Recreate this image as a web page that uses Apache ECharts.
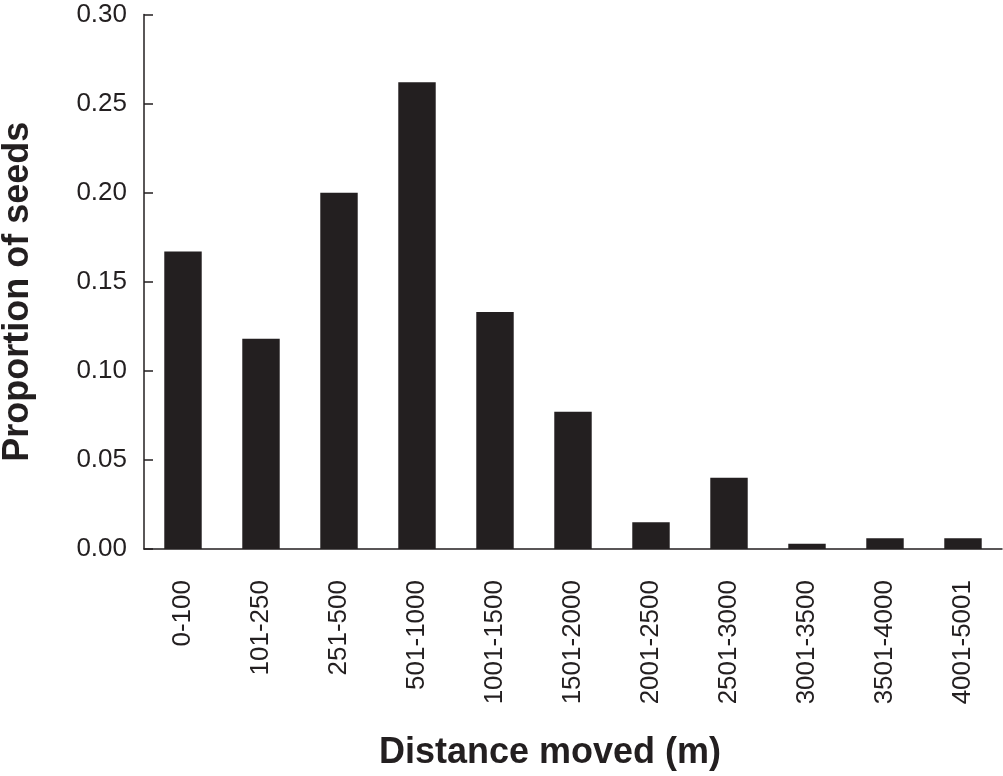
<!DOCTYPE html>
<html>
<head>
<meta charset="utf-8">
<script src="https://cdn.jsdelivr.net/npm/echarts@6/dist/echarts.min.js"></script>
<style>html,body{margin:0;padding:0;background:#fff}#c{width:1003px;height:776px}</style>
</head>
<body>
<div id="c"></div>
<script>
var categories = ['0-100','101-250','251-500','501-1000','1001-1500','1501-2000','2001-2500','2501-3000','3001-3500','3501-4000','4001-5001'];
var proportions = [0.167, 0.118, 0.200, 0.262, 0.133, 0.077, 0.015, 0.040, 0.003, 0.006, 0.006];
var yTicks = [0, 0.05, 0.10, 0.15, 0.20, 0.25, 0.30];

var chart = echarts.init(document.getElementById('c'), null, {renderer: 'canvas'});
var axisColor = '#231f20';
var font = 'Liberation Sans, Arial, Helvetica, sans-serif';
chart.setOption({
  animation: false,
  backgroundColor: '#fff',
  grid: {left: 144, right: 1, top: 14.5, bottom: 227, containLabel: false, outerBoundsMode: 'none'},
  xAxis: {
    type: 'category',
    data: categories,
    name: 'Distance moved (m)',
    nameLocation: 'middle',
    nameGap: 186,
    nameTextStyle: {fontFamily: font, fontSize: 36, fontWeight: 'bold', color: axisColor, padding: [0, 46, 0, 0]},
    axisLine: {lineStyle: {color: axisColor, width: 1.5}},
    axisTick: {inside: true, length: 9, lineStyle: {color: axisColor, width: 1.5}},
    axisLabel: {rotate: 90, margin: 31, fontFamily: font, fontSize: 26, color: axisColor, interval: 0}
  },
  yAxis: {
    type: 'value',
    min: yTicks[0], max: yTicks[yTicks.length - 1], interval: 0.05,
    name: 'Proportion of seeds',
    nameLocation: 'middle',
    nameGap: 108,
    nameRotate: 90,
    nameTextStyle: {fontFamily: font, fontSize: 36, fontWeight: 'bold', color: axisColor, padding: [0, 20, 0, 0]},
    splitLine: {show: false},
    axisLine: {show: true, lineStyle: {color: axisColor, width: 1.5}},
    axisTick: {show: true, inside: true, length: 9, lineStyle: {color: axisColor, width: 1.5}},
    axisLabel: {margin: 17, fontFamily: font, fontSize: 26, color: axisColor,
      formatter: function (v) { return v.toFixed(2); }}
  },
  series: [{
    type: 'bar',
    data: proportions,
    barCategoryGap: '52%',
    itemStyle: {color: '#231f20'}
  }]
});
</script>
</body>
</html>
